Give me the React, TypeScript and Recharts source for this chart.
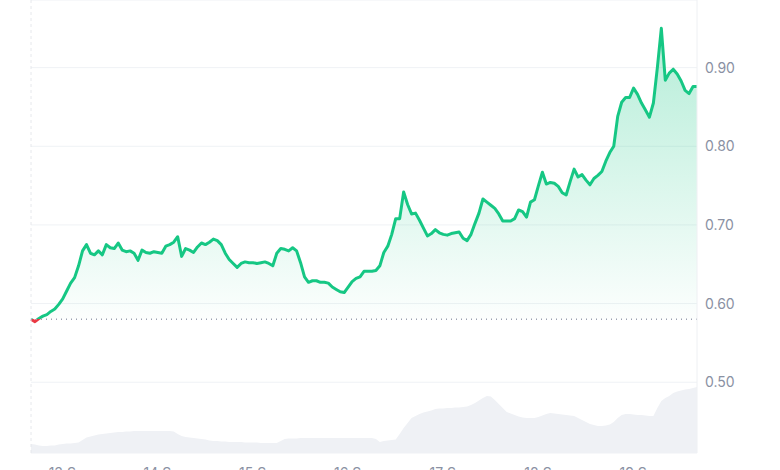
import {
  ComposedChart,
  Area,
  XAxis,
  YAxis,
  CartesianGrid,
  ReferenceLine,
} from "recharts";

// hourly samples, first one is 12 Sep 14:00 (hour -10 relative to 13 Sep 00:00)
const START_HOUR = -10;

const prices = [
  0.58, 0.577, 0.581, 0.584, 0.586, 0.59, 0.593, 0.599, 0.606, 0.616,
  0.626, 0.633, 0.648, 0.667, 0.675, 0.664, 0.662, 0.667, 0.662, 0.675,
  0.671, 0.67, 0.677, 0.668, 0.666, 0.667, 0.664, 0.655, 0.668, 0.665,
  0.664, 0.666, 0.665, 0.664, 0.673, 0.675, 0.678, 0.685, 0.66, 0.67,
  0.668, 0.665, 0.672, 0.677, 0.675, 0.678, 0.682, 0.68, 0.675, 0.664,
  0.656, 0.651, 0.646, 0.651, 0.653, 0.652, 0.652, 0.651, 0.652, 0.653,
  0.651, 0.648, 0.664, 0.67, 0.669, 0.667, 0.671, 0.667, 0.652, 0.634,
  0.627, 0.629, 0.629, 0.627, 0.627, 0.626, 0.621, 0.618, 0.615, 0.614,
  0.621, 0.628, 0.632, 0.634, 0.641, 0.641, 0.641, 0.642, 0.648, 0.665,
  0.673, 0.688, 0.708, 0.708, 0.742, 0.726, 0.714, 0.715, 0.706, 0.696,
  0.686, 0.689, 0.694, 0.69, 0.688, 0.687, 0.689, 0.69, 0.691, 0.683,
  0.68, 0.688, 0.702, 0.715, 0.733, 0.729, 0.725, 0.721, 0.714, 0.705,
  0.705, 0.705, 0.708, 0.719, 0.717, 0.71, 0.729, 0.732, 0.75, 0.767,
  0.752, 0.754, 0.753, 0.749, 0.741, 0.738, 0.755, 0.771, 0.761, 0.764,
  0.757, 0.751, 0.759, 0.763, 0.768, 0.781, 0.792, 0.8, 0.838, 0.856,
  0.862, 0.862, 0.874, 0.866, 0.855, 0.846, 0.837, 0.855, 0.9, 0.95,
  0.884, 0.893, 0.898, 0.892, 0.883, 0.871, 0.867, 0.876, 0.876,
];

// 24h volume, millions
const volumes = [
  18, 17, 15, 14, 14, 15, 15, 17, 18, 19,
  19, 20, 21, 26, 31, 33, 35, 37, 38, 39,
  40, 41, 42, 42, 43, 43, 44, 44, 44, 44,
  44, 44, 44, 44, 44, 44, 43, 38, 34, 32,
  31, 30, 29, 28, 27, 25, 24, 24, 23, 23,
  22, 22, 22, 22, 21, 21, 21, 21, 20, 20,
  20, 20, 20, 24, 28, 29, 29, 29, 30, 30,
  30, 30, 30, 30, 30, 30, 30, 30, 30, 30,
  30, 30, 30, 30, 30, 30, 30, 28, 22, 24,
  25, 26, 27, 38, 50, 60, 70, 74, 78, 81,
  83, 85, 88, 89, 89, 90, 90, 91, 91, 92,
  93, 96, 100, 105, 110, 114, 113, 106, 98, 90,
  82, 79, 76, 73, 71, 70, 70, 70, 72, 75,
  78, 80, 79, 78, 77, 76, 75, 74, 70, 66,
  62, 58, 56, 54, 54, 55, 57, 62, 70, 76,
  78, 78, 77, 76, 76, 75, 74, 74, 90, 104,
  110, 114, 120, 123, 125, 127, 128, 130, 132,
];

const dayLabels = ["13 Sep", "14 Sep", "15 Sep", "16 Sep", "17 Sep", "18 Sep", "19 Sep"];
const dayTicks = dayLabels.map((_, i) => i * 24);
const priceTicks = [0.5, 0.6, 0.7, 0.8, 0.9];

const data = prices.map((p, i) => ({
  hour: START_HOUR + i,
  price: p,
  volume: volumes[i],
}));

const openPrice = prices[0];
const maxP = Math.max(...prices);
const minP = Math.min(...prices);
const split = (maxP - openPrice) / (maxP - minP);

const GREEN = "#16c784";
const RED = "#ea3943";

export default function App() {
  return (
    <div
      style={{
        position: "absolute",
        top: 0,
        left: 0,
        width: 780,
        height: 470,
        overflow: "hidden",
        background: "#fff",
      }}
    >
      <ComposedChart
        width={780}
        height={483}
        data={data}
        margin={{ top: 0, right: 0, bottom: 0, left: 31 }}
        style={{ fontFamily: "Inter, sans-serif" }}
      >
        <defs>
          <linearGradient id="priceStroke" x1="0" y1="0" x2="0" y2="1">
            <stop offset={0} stopColor={GREEN} />
            <stop offset={split} stopColor={GREEN} />
            <stop offset={split} stopColor={RED} />
            <stop offset={1} stopColor={RED} />
          </linearGradient>
          <linearGradient id="priceFill" x1="0" y1="0" x2="0" y2="1">
            <stop offset="0%" stopColor={GREEN} stopOpacity={0.32} />
            <stop offset="100%" stopColor={GREEN} stopOpacity={0.01} />
          </linearGradient>
        </defs>
        <CartesianGrid yAxisId="price" vertical={false} stroke="#eff2f5" />
        <XAxis
          dataKey="hour"
          type="number"
          domain={[START_HOUR, START_HOUR + prices.length - 1]}
          ticks={dayTicks}
          tickFormatter={(h: number) => dayLabels[h / 24]}
          axisLine={false}
          tickLine={false}
          tickMargin={9}
          tick={{ fill: "#8a91a3", fontSize: 14 }}
        />
        <YAxis
          yAxisId="price"
          orientation="right"
          domain={[0.41, 0.986]}
          ticks={priceTicks}
          tickFormatter={(v: number) => v.toFixed(2)}
          axisLine={{ stroke: "#eef0f3" }}
          tickLine={false}
          width={83}
          tick={{ fill: "#8a91a3", fontSize: 14 }}
        />
        <YAxis yAxisId="vol" hide domain={[0, 906]} />
        <ReferenceLine
          yAxisId="price"
          x={START_HOUR}
          stroke="#e6e8ec"
          strokeDasharray="3 3"
        />
        <Area
          yAxisId="vol"
          dataKey="volume"
          type="linear"
          stroke="none"
          fill="#eff1f5"
          fillOpacity={1}
          isAnimationActive={false}
        />
        <ReferenceLine
          yAxisId="price"
          y={openPrice}
          stroke="#9aa1b0"
          strokeWidth={1.5}
          strokeDasharray="1 4"
        />
        <Area
          yAxisId="price"
          dataKey="price"
          type="linear"
          baseValue={openPrice}
          stroke="url(#priceStroke)"
          strokeWidth={3}
          strokeLinejoin="round"
          fill="url(#priceFill)"
          fillOpacity={1}
          dot={false}
          activeDot={false}
          isAnimationActive={false}
        />
      </ComposedChart>
    </div>
  );
}
